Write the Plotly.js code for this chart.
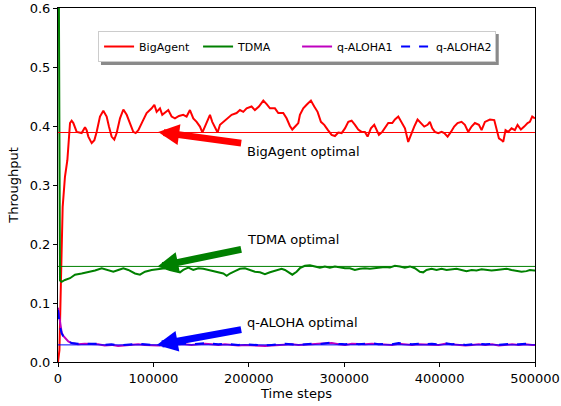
<!DOCTYPE html>
<html>
<head>
<meta charset="utf-8">
<script src="https://cdn.plot.ly/plotly-3.0.1.min.js"></script>
<style>html,body{margin:0;padding:0;background:#fff;}#chart{width:561px;height:406px;}</style>
</head>
<body>
<div id="chart"></div>
<script>
// ---- data ----
const seriesNames = ["BigAgent", "TDMA", "q-ALOHA1", "q-ALOHA2"];

const bigX = [0,1500,3100,4200,4900,7300,9800,12600,14300,16100,19600,24800,28300,30000,31800,35300,38100,40500,44000,47500,51000,53400,56200,59000,61500,65000,68500,72000,75500,78900,81400,84200,88400,92900,98200,101000,103400,106900,109300,112100,115600,119100,122600,126800,131300,134800,138300,141800,145300,148800,151300,154000,156800,159300,161700,164500,167300,169800,173300,176800,182000,187200,190700,194200,197700,202900,206400,210600,215200,218700,222200,227400,230900,236100,239600,243100,245600,249100,251900,253600,257100,260600,265100,268600,272100,275600,279100,282600,286800,290300,293800,297300,300800,304300,307800,311300,314700,318200,321700,324500,328000,331500,334000,336400,339900,343400,346200,350400,353200,356700,360200,363700,367100,369900,373400,376900,380400,383900,387400,389800,392300,395100,398600,402100,404900,408400,411900,415300,418800,423000,426500,430000,433500,437000,441200,444000,447500,452700,457300,459700,462200,465000,466700,469100,471900,475400,478900,481700,485200,488700,492200,494600,497100,500000];
const bigY = [0.000,0.020,0.139,0.207,0.263,0.314,0.342,0.405,0.409,0.405,0.390,0.388,0.398,0.393,0.382,0.371,0.376,0.390,0.416,0.426,0.416,0.399,0.382,0.377,0.388,0.413,0.428,0.419,0.405,0.390,0.388,0.393,0.407,0.422,0.430,0.436,0.424,0.430,0.419,0.422,0.427,0.416,0.413,0.417,0.419,0.416,0.427,0.413,0.407,0.399,0.389,0.399,0.410,0.419,0.407,0.399,0.389,0.402,0.407,0.413,0.419,0.422,0.427,0.424,0.430,0.433,0.427,0.433,0.443,0.437,0.430,0.430,0.422,0.422,0.413,0.400,0.394,0.400,0.405,0.419,0.430,0.436,0.443,0.433,0.424,0.407,0.402,0.394,0.385,0.383,0.389,0.388,0.396,0.407,0.409,0.402,0.394,0.390,0.390,0.382,0.396,0.402,0.393,0.385,0.390,0.399,0.405,0.405,0.411,0.416,0.405,0.396,0.373,0.385,0.399,0.411,0.405,0.399,0.402,0.407,0.396,0.390,0.388,0.390,0.388,0.382,0.390,0.399,0.405,0.407,0.402,0.390,0.399,0.405,0.402,0.393,0.407,0.411,0.410,0.393,0.379,0.376,0.373,0.393,0.390,0.396,0.393,0.402,0.394,0.399,0.405,0.407,0.416,0.413];

const tdmaX = [0,1400,2100,3800,7300,12600,17800,24800,31800,38800,45800,52700,58000,63200,68500,73700,80700,85900,91200,98200,105100,112100,117400,122600,127900,131300,136600,141800,147100,152300,157500,162800,168000,173300,176800,180200,185500,190700,196000,201200,206400,211700,216900,222200,227400,234400,237900,241400,245600,250100,253600,258800,264100,269300,274600,279800,285000,290300,295500,300800,306000,311200,316500,321700,326900,332200,337400,342700,347900,353100,358400,363600,368900,374100,379300,382800,386300,391600,396800,402100,407300,412500,417800,423000,428200,433500,438700,444000,449200,454400,459700,464900,470200,475400,480600,485900,491100,494600,499200,500000];
const tdmaY = [1.000,0.165,0.138,0.136,0.139,0.142,0.148,0.150,0.152,0.155,0.159,0.156,0.153,0.156,0.159,0.156,0.150,0.148,0.153,0.156,0.158,0.159,0.156,0.154,0.152,0.156,0.160,0.156,0.159,0.158,0.156,0.154,0.153,0.150,0.146,0.150,0.154,0.158,0.159,0.156,0.153,0.152,0.149,0.152,0.154,0.158,0.156,0.152,0.148,0.153,0.159,0.163,0.164,0.162,0.160,0.162,0.160,0.162,0.160,0.159,0.159,0.156,0.158,0.159,0.158,0.159,0.160,0.161,0.160,0.163,0.162,0.160,0.162,0.159,0.153,0.152,0.156,0.158,0.156,0.158,0.156,0.157,0.158,0.156,0.154,0.156,0.155,0.157,0.156,0.155,0.156,0.157,0.158,0.156,0.154,0.153,0.154,0.156,0.155,0.155];

const alohaX = [0,2100,3800,5600,8000,10800,14300,21000,28000,35000,42000,49000,56000,63000,70000,77000,84000,91000,98000,105000,112000,119000,126000,133000,140000,147000,154000,161000,168000,175000,182000,189000,196000,203000,210000,217000,224000,231000,238000,245000,252000,259000,266000,273000,280000,287000,294000,301000,308000,315000,322000,329000,336000,343000,350000,357000,364000,371000,378000,385000,392000,399000,406000,413000,420000,427000,434000,441000,448000,455000,462000,469000,476000,483000,490000,497000,500000];
const aloha1Y = [0.092,0.064,0.050,0.044,0.039,0.035,0.032,0.030,0.031,0.031,0.030,0.028,0.029,0.027,0.028,0.030,0.030,0.029,0.028,0.028,0.029,0.030,0.030,0.030,0.029,0.030,0.031,0.030,0.029,0.030,0.029,0.028,0.029,0.028,0.027,0.027,0.028,0.029,0.030,0.030,0.029,0.029,0.030,0.031,0.032,0.032,0.030,0.029,0.031,0.030,0.030,0.031,0.030,0.030,0.029,0.031,0.030,0.029,0.030,0.030,0.030,0.029,0.031,0.030,0.030,0.028,0.029,0.030,0.029,0.030,0.028,0.029,0.030,0.029,0.030,0.029,0.029];
const aloha2Y = [0.088,0.060,0.049,0.043,0.038,0.035,0.032,0.031,0.031,0.032,0.031,0.029,0.030,0.028,0.029,0.030,0.031,0.030,0.029,0.028,0.030,0.031,0.030,0.031,0.030,0.031,0.032,0.031,0.030,0.031,0.030,0.029,0.030,0.029,0.028,0.028,0.029,0.030,0.031,0.030,0.029,0.030,0.031,0.030,0.032,0.033,0.031,0.030,0.032,0.030,0.031,0.032,0.030,0.031,0.030,0.032,0.031,0.030,0.031,0.030,0.031,0.030,0.032,0.030,0.031,0.029,0.030,0.031,0.030,0.031,0.029,0.030,0.031,0.030,0.031,0.030,0.030];

const optimalNames = ["BigAgent optimal", "TDMA optimal", "q-ALOHA optimal"];
const optimalValues = [0.389, 0.162, 0.029];
const optimalSpan = [0, 500000];

const xTicks = [0, 100000, 200000, 300000, 400000, 500000];
const yTicks = [0.0, 0.1, 0.2, 0.3, 0.4, 0.5, 0.6];

// ---- styles ----
const colors = ["#ff0000", "#008000", "#bf00bf", "#0000ff"];
const font = "DejaVu Sans, sans-serif";

const traces = [
  {x: bigX, y: bigY, name: seriesNames[0], mode: "lines", line: {color: colors[0], width: 2}},
  {x: tdmaX, y: tdmaY, name: seriesNames[1], mode: "lines", line: {color: colors[1], width: 2}},
  {x: alohaX, y: aloha1Y, name: seriesNames[2], mode: "lines", line: {color: colors[2], width: 2}},
  {x: alohaX, y: aloha2Y, name: seriesNames[3], mode: "lines", line: {color: colors[3], width: 2, dash: "dash"}}
];
const optColors = [colors[0], colors[1], colors[3]];
optimalValues.forEach((v, i) => {
  traces.push({x: optimalSpan, y: [v, v], mode: "lines", showlegend: false,
    line: {color: optColors[i], width: 1}});
});

// arrows and labels
const arrowTips = [[105000, 0.390], [104000, 0.1615], [103500, 0.0288]];
const arrowTails = [[193600, 0.3706], [193600, 0.1915], [193600, 0.0554]];
const labelPos = [[200000, 0.3576], [200000, 0.2068], [200000, 0.0678]];
const annotations = [];
optimalNames.forEach((t, i) => {
  annotations.push({x: arrowTips[i][0], y: arrowTips[i][1], xref: "x", yref: "y",
    ax: arrowTails[i][0], ay: arrowTails[i][1], axref: "x", ayref: "y",
    text: "", showarrow: true, arrowhead: 2, arrowsize: 0.6, arrowwidth: 7,
    arrowcolor: optColors[i], standoff: 0});
  annotations.push({x: labelPos[i][0], y: labelPos[i][1], xref: "x", yref: "y",
    text: t, showarrow: false, xanchor: "left", yanchor: "middle", xshift: -4,
    font: {family: font, size: 13, color: "#000"}});
});

const layout = {
  width: 561, height: 406,
  margin: {l: 58, r: 26, t: 8, b: 44, pad: 0},
  paper_bgcolor: "#fff", plot_bgcolor: "#fff",
  font: {family: font, size: 13, color: "#000"},
  showlegend: true,
  legend: {orientation: "h", x: 0.084, y: 0.935, xanchor: "left", yanchor: "top",
    bgcolor: "#fff", bordercolor: "#cccccc", borderwidth: 1,
    entrywidth: 54, entrywidthmode: "pixels",
    font: {family: font, size: 11, color: "#000"}},
  xaxis: {range: [0, 500000], tickvals: xTicks, ticktext: xTicks.map(v => String(v)),
    showline: true, linecolor: "#000", linewidth: 1, mirror: true,
    ticks: "outside", ticklen: 4, tickcolor: "#000", showgrid: false, zeroline: false,
    tickfont: {size: 13}, title: {text: "Time steps", font: {size: 13}, standoff: 4},
    automargin: false},
  yaxis: {range: [0, 0.6], tickvals: yTicks, ticktext: yTicks.map(v => v.toFixed(1)),
    showline: true, linecolor: "#000", linewidth: 1, mirror: true,
    ticks: "outside", ticklen: 4, tickcolor: "#000", showgrid: false, zeroline: false,
    tickfont: {size: 13}, title: {text: "Throughput", font: {size: 13}, standoff: 8},
    automargin: false},
  annotations: annotations,
  shapes: [{type: "rect", xref: "paper", yref: "paper", layer: "above",
    x0: 0.0901, x1: 0.924, y0: 0.839, y1: 0.9266,
    fillcolor: "#8a8a8a", line: {width: 0}}]
};

Plotly.newPlot("chart", traces, layout, {displayModeBar: false, staticPlot: true});
</script>
</body>
</html>
